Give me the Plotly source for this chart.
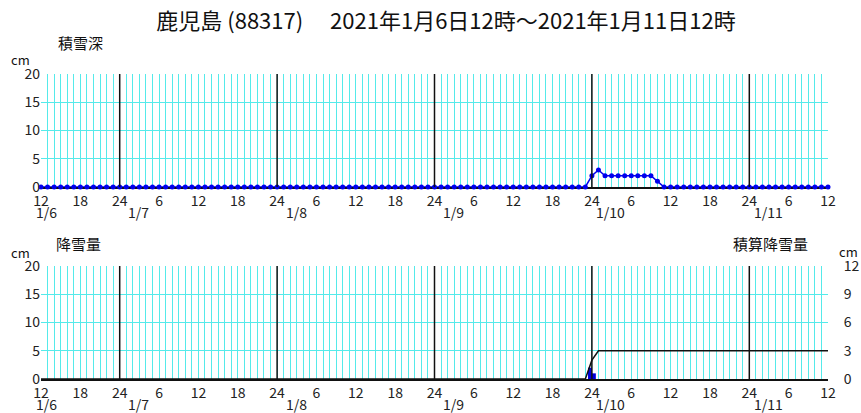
import plotly.graph_objects as go

# hours since 2021-01-06 12:00
hours = list(range(0, 121))
hour_labels = ["12", "18", "24", "6", "12", "18", "24", "6", "12", "18", "24", "6",
               "12", "18", "24", "6", "12", "18", "24", "6", "12"]
label_hours = list(range(0, 121, 6))
day_start_hours = [12, 36, 60, 84, 108]
date_labels = ["1/6", "1/7", "1/8", "1/9", "1/10", "1/11"]
date_label_hours = [0.9, 14.9, 38.9, 62.9, 86.9, 110.9]

# snow depth (cm), hourly
snow_depth = [0, 0, 0, 0, 0, 0, 0, 0, 0, 0, 0, 0, 0, 0, 0, 0, 0, 0, 0, 0,
              0, 0, 0, 0, 0, 0, 0, 0, 0, 0, 0, 0, 0, 0, 0, 0, 0, 0, 0, 0,
              0, 0, 0, 0, 0, 0, 0, 0, 0, 0, 0, 0, 0, 0, 0, 0, 0, 0, 0, 0,
              0, 0, 0, 0, 0, 0, 0, 0, 0, 0, 0, 0, 0, 0, 0, 0, 0, 0, 0, 0,
              0, 0, 0, 0, 2, 3, 2, 2, 2, 2, 2, 2, 2, 2, 1, 0, 0, 0, 0, 0,
              0, 0, 0, 0, 0, 0, 0, 0, 0, 0, 0, 0, 0, 0, 0, 0, 0, 0, 0, 0,
              0]

# hourly snowfall (cm)
snowfall_x = [83.7, 84.3]
snowfall = [2, 1]

# accumulated snowfall (cm), hourly
snowfall_total = [0, 0, 0, 0, 0, 0, 0, 0, 0, 0, 0, 0, 0, 0, 0, 0, 0, 0, 0, 0,
                  0, 0, 0, 0, 0, 0, 0, 0, 0, 0, 0, 0, 0, 0, 0, 0, 0, 0, 0, 0,
                  0, 0, 0, 0, 0, 0, 0, 0, 0, 0, 0, 0, 0, 0, 0, 0, 0, 0, 0, 0,
                  0, 0, 0, 0, 0, 0, 0, 0, 0, 0, 0, 0, 0, 0, 0, 0, 0, 0, 0, 0,
                  0, 0, 0, 0, 2, 3, 3, 3, 3, 3, 3, 3, 3, 3, 3, 3, 3, 3, 3, 3,
                  3, 3, 3, 3, 3, 3, 3, 3, 3, 3, 3, 3, 3, 3, 3, 3, 3, 3, 3, 3,
                  3]

FONT = "Noto Sans CJK JP"
CYAN = "#55eaea"

W, H = 861, 413
PL, PR, PT, PB = 41, 33, 74, 34
PW, PH = W - PL - PR, H - PT - PB


def px(x):  # page x -> paper
    return (x - PL) / PW


def py(y):  # page y -> paper
    return (H - PB - y) / PH


fig = go.Figure()

fig.add_trace(go.Scatter(x=hours, y=snow_depth, mode="lines+markers",
                         line=dict(color="#0000ee", width=1.5),
                         marker=dict(color="#0000ee", size=5),
                         cliponaxis=False, xaxis="x", yaxis="y"))

fig.add_trace(go.Bar(x=snowfall_x, y=snowfall, width=0.6,
                     marker=dict(color="#0000dd", line=dict(width=0)),
                     xaxis="x2", yaxis="y2"))

fig.add_trace(go.Scatter(x=hours, y=snowfall_total, mode="lines",
                         line=dict(color="#111111", width=1.5),
                         cliponaxis=False, xaxis="x2", yaxis="y3"))

xcommon = dict(range=[0, 120], tickmode="array", tickvals=label_hours, ticktext=hour_labels,
               showgrid=True, gridcolor=CYAN, gridwidth=1,
               minor=dict(dtick=1, showgrid=True, gridcolor=CYAN, gridwidth=1),
               showline=True, linecolor="#111111", linewidth=2, zeroline=False,
               ticks="", layer="below traces", automargin=False,
               tickfont=dict(family=FONT, size=14, color="#222"), fixedrange=True)
ycommon = dict(range=[0, 20], tickvals=[0, 5, 10, 15, 20], showgrid=True, gridcolor=CYAN,
               gridwidth=1, zeroline=False, showline=False, ticks="", automargin=False,
               tickfont=dict(family=FONT, size=14, color="#222"), fixedrange=True)

fig.update_layout(
    width=W, height=H,
    margin=dict(l=PL, r=PR, t=PT, b=PB),
    paper_bgcolor="white", plot_bgcolor="white",
    showlegend=False,
    xaxis=dict(xcommon, domain=[0, 1], anchor="y"),
    yaxis=dict(ycommon, domain=[py(187), 1], anchor="x"),
    xaxis2=dict(xcommon, domain=[0, 1], anchor="y2"),
    yaxis2=dict(ycommon, domain=[0, py(266)], anchor="x2"),
    yaxis3=dict(range=[0, 12], tickvals=[0, 3, 6, 9, 12], overlaying="y2", side="right",
                anchor="x2", showgrid=False, zeroline=False, showline=False,
                ticks="outside", ticklen=12, tickcolor="rgba(0,0,0,0)", automargin=False,
                tickfont=dict(family=FONT, size=14, color="#222"), fixedrange=True),
    title=dict(text="鹿児島 (88317)　 2021年1月6日12時～2021年1月11日12時",
               x=446 / W, xanchor="center", y=1 - 21 / H, yanchor="middle",
               font=dict(family=FONT, size=22, color="#111")),
)

# black lines at each midnight
for h in day_start_hours:
    for xr, yr in (("x", "y domain"), ("x2", "y2 domain")):
        fig.add_shape(type="line", x0=h, x1=h, y0=0, y1=1, xref=xr, yref=yr,
                      line=dict(color="#111111", width=1.5))

# date labels under the hour ticks
for d, h in zip(date_labels, date_label_hours):
    for xr, yr in (("x", "y domain"), ("x2", "y2 domain")):
        fig.add_annotation(x=h, y=0, xref=xr, yref=yr, text=d, showarrow=False,
                           yanchor="middle", yshift=-25,
                           font=dict(family=FONT, size=14, color="#222"))

labels = [
    ("積雪深", 80, 43, 15),
    ("降雪量", 78, 243, 15),
    ("積算降雪量", 770, 243, 15),
    ("cm", 20, 60, 13),
    ("cm", 20, 252, 13),
    ("cm", 849, 251, 13),
]
for txt, lx, ly, fs in labels:
    fig.add_annotation(x=px(lx), y=py(ly), xref="paper", yref="paper", text=txt,
                       showarrow=False, xanchor="center", yanchor="middle",
                       font=dict(family=FONT, size=fs, color="#111"))

# drop the default page margin so the figure sits at the window's corner
fig.write_html("out.html", config={"displayModeBar": False},
               post_script="document.body.style.margin='0';")
